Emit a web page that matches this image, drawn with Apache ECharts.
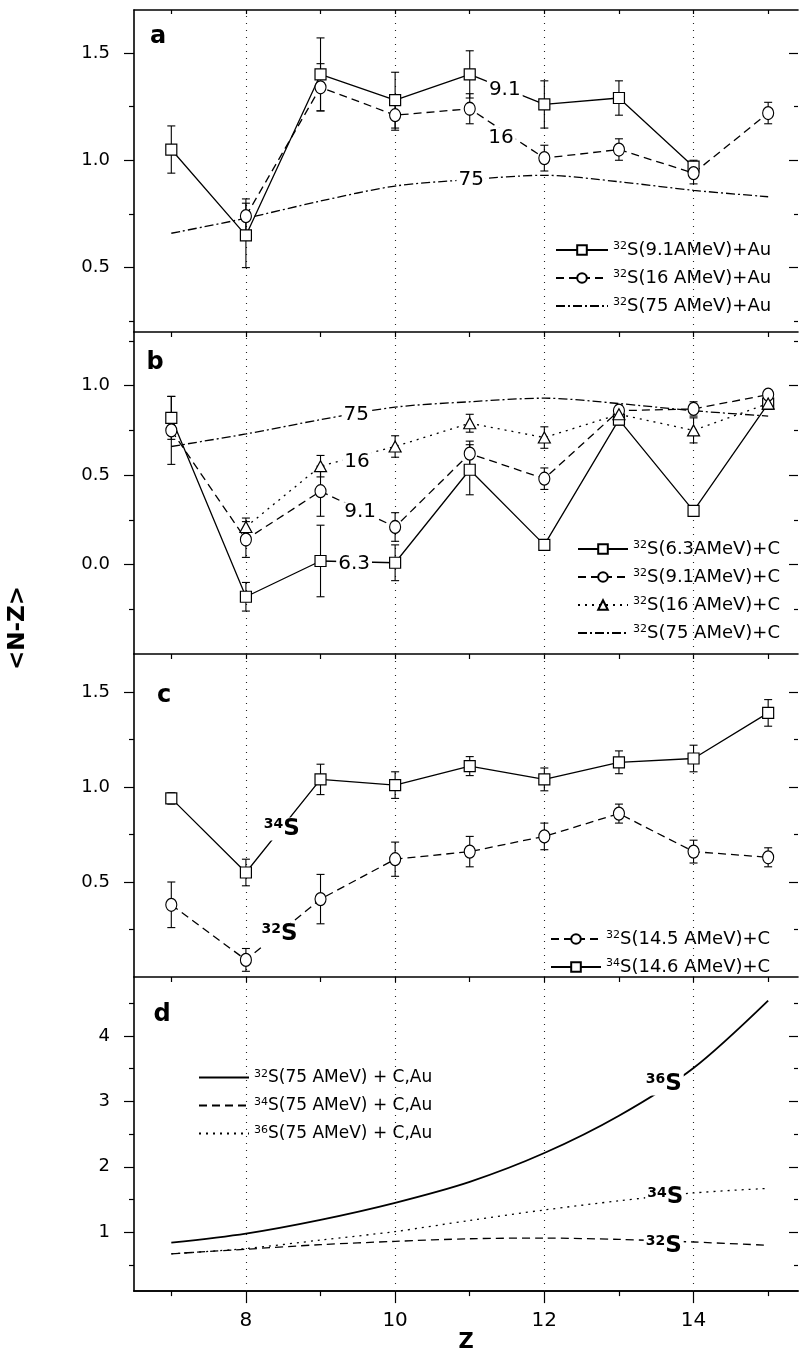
<!DOCTYPE html>
<html>
<head>
<meta charset="utf-8">
<script src="https://cdn.jsdelivr.net/npm/echarts@6/dist/echarts.min.js"></script>
<style>
  html, body { margin: 0; padding: 0; background: #fff; }
  #main { width: 799px; height: 1354px; }
</style>
</head>
<body>
<div id="main"></div>
<script>
// abscissa (Z)
const zAll = [7, 8, 9, 10, 11, 12, 13, 14, 15];
const zFrom8 = [8, 9, 10, 11, 12, 13, 14, 15];
const zTo14 = [7, 8, 9, 10, 11, 12, 13, 14];
const xMajor = [8, 10, 12, 14];
const xMinor = [7, 9, 11, 13, 15];

// panel a : 32S + Au
const au91 = [1.05, 0.65, 1.40, 1.28, 1.40, 1.26, 1.29, 0.97];       // Z 7..14
const au91Err = [0.11, 0.15, 0.17, 0.13, 0.11, 0.11, 0.08, 0.03];
const au16 = [0.74, 1.34, 1.21, 1.24, 1.01, 1.05, 0.94, 1.22];       // Z 8..15
const au16Err = [0.08, 0.11, 0.07, 0.07, 0.06, 0.05, 0.05, 0.05];
const s32at75 = [0.66, 0.73, 0.81, 0.88, 0.91, 0.93, 0.90, 0.86, 0.83]; // Z 7..15

// panel b : 32S + C
const c63 = [0.82, -0.18, 0.02, 0.01, 0.53, 0.11, 0.81, 0.30, 0.90];  // Z 7..15
const c63Err = [0.12, 0.08, 0.20, 0.10, 0.14, 0.03, 0.03, 0.03, 0.03];
const c91 = [0.75, 0.14, 0.41, 0.21, 0.62, 0.48, 0.86, 0.87, 0.95];
const c91Err = [0.19, 0.10, 0.14, 0.08, 0.07, 0.06, 0.03, 0.04, 0.02];
const c16 = [0.21, 0.55, 0.66, 0.79, 0.71, 0.84, 0.75, 0.90];        // Z 8..15
const c16Err = [0.05, 0.06, 0.06, 0.05, 0.06, 0.03, 0.07, 0.03];

// panel c : 32S / 34S + C
const s32c145 = [0.38, 0.09, 0.41, 0.62, 0.66, 0.74, 0.86, 0.66, 0.63];
const s32c145Err = [0.12, 0.06, 0.13, 0.09, 0.08, 0.07, 0.05, 0.06, 0.05];
const s34c146 = [0.94, 0.55, 1.04, 1.01, 1.11, 1.04, 1.13, 1.15, 1.39];
const s34c146Err = [0.03, 0.07, 0.08, 0.07, 0.05, 0.06, 0.06, 0.07, 0.07];

// panel d : 75 AMeV + C,Au
const d32 = [0.84, 0.98, 1.19, 1.45, 1.77, 2.21, 2.78, 3.51, 4.54];
const d34 = [0.67, 0.74, 0.81, 0.86, 0.90, 0.91, 0.89, 0.85, 0.80];
const d36 = [0.67, 0.75, 0.88, 1.01, 1.18, 1.34, 1.48, 1.60, 1.67];

// y tick values
const yTicksA = [0.5, 1.0, 1.5], yMinorA = [0.25, 0.75, 1.25];
const yTicksB = [0.0, 0.5, 1.0], yMinorB = [-0.25, 0.25, 0.75, 1.25];
const yTicksC = [0.5, 1.0, 1.5], yMinorC = [0.25, 0.75, 1.25];
const yTicksD = [1, 2, 3, 4], yMinorD = [0.5, 1.5, 2.5, 3.5, 4.5];

// in-plot labels [text, Z, value]
const notesA = [['9.1', 11.47, 1.33], ['16', 11.42, 1.107], ['75', 11.02, 0.908]];
const notesB = [['75', 9.48, 0.836], ['16', 9.49, 0.574], ['9.1', 9.53, 0.293], ['6.3', 9.45, 0.007]];
const notesC = [['34', 8.48, 0.779], ['32', 8.45, 0.225]];
const notesD = [['36', 13.6, 3.263], ['34', 13.62, 1.532], ['32', 13.6, 0.788]];

const FONT = 'DejaVu Sans';
const xMin = 6.5, xMax = 15.4;

const panels = [
  {top: 10, height: 322, min: 0.2, max: 1.7, ticks: yTicksA, minor: yMinorA, dec: 1},
  {top: 332, height: 322, min: -0.5, max: 1.3, ticks: yTicksB, minor: yMinorB, dec: 1},
  {top: 654, height: 323, min: 0.0, max: 1.7, ticks: yTicksC, minor: yMinorC, dec: 1},
  {top: 977, height: 322, min: 0.1, max: 4.9, ticks: yTicksD, minor: yMinorD, dec: 0}
];

const grids = panels.map(p => ({left: 134, right: 1, top: p.top, height: p.height}));

function xAx(gi, pos, ticks, len, inside, labels) {
  return {
    type: 'value', gridIndex: gi, position: pos, min: xMin, max: xMax,
    axisLine: {show: true, onZero: false, lineStyle: {color: '#000', width: 1.6}},
    axisTick: {show: true, customValues: ticks, length: len, inside: inside, lineStyle: {color: '#000', width: 1.2}},
    axisLabel: labels ? {show: true, customValues: labels, margin: 20, fontSize: 20, color: '#000', fontFamily: FONT} : {show: false},
    splitLine: {show: false}
  };
}

function yAx(gi, p, pos, ticks, len, inside, labels, line) {
  return {
    type: 'value', gridIndex: gi, position: pos, min: p.min, max: p.max,
    axisLine: {show: line, onZero: false, lineStyle: {color: '#000', width: 1.6}},
    axisTick: {show: true, customValues: ticks, length: len, inside: inside, lineStyle: {color: '#000', width: 1.2}},
    axisLabel: labels ? {show: true, customValues: labels, margin: 24, fontSize: 18, color: '#000', fontFamily: FONT,
      formatter: v => Number(v).toFixed(p.dec)} : {show: false},
    splitLine: {show: false}
  };
}

const xAxes = [
  xAx(0, 'bottom', zAll, 5, false, null),
  xAx(1, 'bottom', zAll, 5, false, null),
  xAx(2, 'bottom', zAll, 5, false, null),
  Object.assign(xAx(3, 'bottom', xMajor, 12, false, xMajor), {
    name: 'Z', nameLocation: 'middle', nameGap: 33,
    nameTextStyle: {fontSize: 21, fontWeight: 'bold', color: '#000', fontFamily: FONT}
  }),
  xAx(3, 'bottom', xMinor, 5, false, null),
  xAx(0, 'top', zAll, 4, true, null)
];

const yAxes = [];
panels.forEach((p, i) => {
  yAxes.push(yAx(i, p, 'left', p.ticks, 10, false, p.ticks, true));
  yAxes.push(yAx(i, p, 'left', p.minor, 5, false, null, false));
  yAxes.push(yAx(i, p, 'right', p.ticks, 9, true, null, false));
  yAxes.push(yAx(i, p, 'right', p.minor, 4, true, null, false));
});

const dottedGrid = {
  silent: true, symbol: 'none', animation: false, z: 1,
  label: {show: false}, emphasis: {disabled: true},
  lineStyle: {color: '#222', type: [1, 6], width: 1.1},
  data: xMajor.map(v => ({xAxis: v}))
};

function pts(zs, vs) { return zs.map((z, i) => [z, vs[i]]); }

function lineSeries(gi, name, zs, vs, dash, symbol, size, extra) {
  return Object.assign({
    type: 'line', name: name, xAxisIndex: gi, yAxisIndex: 4 * gi, z: 3,
    data: pts(zs, vs), symbol: symbol || 'none', symbolSize: size || 0,
    showSymbol: !!symbol,
    lineStyle: {color: '#000', width: 1.3, type: dash},
    itemStyle: {color: '#fff', borderColor: '#000', borderWidth: 1.2},
    emphasis: {disabled: true}, silent: true
  }, extra || {});
}

function errSeries(gi, zs, vs, es) {
  return {
    type: 'custom', xAxisIndex: gi, yAxisIndex: 4 * gi, z: 2, silent: true,
    data: zs.map((z, i) => [z, vs[i], es[i]]),
    renderItem: (params, api) => {
      const z = api.value(0), v = api.value(1), e = api.value(2);
      if (!e) return null;
      const hi = api.coord([z, v + e]), lo = api.coord([z, v - e]);
      const w = 4, st = {stroke: '#000', lineWidth: 1.1};
      return {type: 'group', children: [
        {type: 'line', shape: {x1: hi[0], y1: hi[1], x2: lo[0], y2: lo[1]}, style: st},
        {type: 'line', shape: {x1: hi[0] - w, y1: hi[1], x2: hi[0] + w, y2: hi[1]}, style: st},
        {type: 'line', shape: {x1: lo[0] - w, y1: lo[1], x2: lo[0] + w, y2: lo[1]}, style: st}
      ]};
    }
  };
}

function noteSeries(gi, notes, iso) {
  return {
    type: 'scatter', xAxisIndex: gi, yAxisIndex: 4 * gi, z: 6, silent: true,
    symbolSize: 1, itemStyle: {color: 'rgba(0,0,0,0)', opacity: 1},
    emphasis: {disabled: true},
    data: notes.map(n => ({value: [n[1], n[2]], txt: n[0]})),
    label: {
      show: true, position: 'inside', color: '#000', fontFamily: FONT,
      textBorderWidth: 0, textBorderColor: 'transparent',
      fontSize: 20, backgroundColor: '#fff', padding: [0, 2],
      formatter: p => iso ? '{sup|' + p.data.txt + '}{big|S}' : p.data.txt,
      rich: {
        sup: {fontSize: 14, fontWeight: 'bold', verticalAlign: 'top', fontFamily: FONT, color: '#000', textBorderWidth: 0},
        big: {fontSize: 23, fontWeight: 'bold', fontFamily: FONT, color: '#000', textBorderWidth: 0}
      }
    }
  };
}

const DASH = [8, 5], DOT = [2, 5], DASHDOT = [9, 3, 2, 3];

const series = [
  // panel a
  lineSeries(0, '32S(9.1AMeV)+Au', zTo14, au91, 'solid', 'rect', 11, {markLine: dottedGrid}),
  lineSeries(0, '32S(16 AMeV)+Au', zFrom8, au16, DASH, 'circle', [11, 13]),
  lineSeries(0, '32S(75 AMeV)+Au', zAll, s32at75, DASHDOT, null, 0, {smooth: 0.3}),
  errSeries(0, zTo14, au91, au91Err),
  errSeries(0, zFrom8, au16, au16Err),
  noteSeries(0, notesA, false),
  // panel b
  lineSeries(1, '32S(6.3AMeV)+C', zAll, c63, 'solid', 'rect', 11, {markLine: dottedGrid}),
  lineSeries(1, '32S(9.1AMeV)+C', zAll, c91, DASH, 'circle', [11, 13]),
  lineSeries(1, '32S(16 AMeV)+C', zFrom8, c16, DOT, 'triangle', [12, 11]),
  lineSeries(1, '32S(75 AMeV)+C', zAll, s32at75, DASHDOT, null, 0, {smooth: 0.3}),
  errSeries(1, zAll, c63, c63Err),
  errSeries(1, zAll, c91, c91Err),
  errSeries(1, zFrom8, c16, c16Err),
  noteSeries(1, notesB, false),
  // panel c
  lineSeries(2, '32S(14.5 AMeV)+C', zAll, s32c145, DASH, 'circle', [11, 13], {markLine: dottedGrid}),
  lineSeries(2, '34S(14.6 AMeV)+C', zAll, s34c146, 'solid', 'rect', 11),
  errSeries(2, zAll, s32c145, s32c145Err),
  errSeries(2, zAll, s34c146, s34c146Err),
  noteSeries(2, notesC, true),
  // panel d
  lineSeries(3, '32S(75 AMeV) + C,Au', zAll, d32, 'solid', null, 0, {smooth: 0.3, markLine: dottedGrid, lineStyle: {color: '#000', width: 1.8, type: 'solid'}}),
  lineSeries(3, '34S(75 AMeV) + C,Au', zAll, d34, DASH, null, 0, {smooth: 0.3}),
  lineSeries(3, '36S(75 AMeV) + C,Au', zAll, d36, DOT, null, 0, {smooth: 0.3}),
  noteSeries(3, notesD, true)
];

function legendFmt(name) {
  const m = name.match(/^(\d+)(.*)$/);
  return '{sup|' + m[1] + '}{t|' + m[2] + '}';
}

// names of series drawn without markers: their legend icon is the line only
const lineOnly = ['32S(75 AMeV)+Au', '32S(75 AMeV)+C', '32S(75 AMeV) + C,Au', '34S(75 AMeV) + C,Au', '36S(75 AMeV) + C,Au'];

function legend(names, left, top, w, gap, fs) {
  return {
    data: names.map(n => lineOnly.indexOf(n) >= 0 ? {name: n, itemStyle: {opacity: 0}} : n),
    left: left, top: top, orient: 'vertical',
    itemWidth: w, itemHeight: 12, itemGap: gap, selectedMode: false,
    formatter: legendFmt,
    textStyle: {
      color: '#000', fontFamily: FONT, fontSize: fs,
      rich: {
        sup: {fontSize: 11, verticalAlign: 'top', fontFamily: FONT, color: '#000'},
        t: {fontSize: fs, fontFamily: FONT, color: '#000'}
      }
    }
  };
}

const legends = [
  legend(['32S(9.1AMeV)+Au', '32S(16 AMeV)+Au', '32S(75 AMeV)+Au'], 550, 236, 52, 10, 18),
  legend(['32S(6.3AMeV)+C', '32S(9.1AMeV)+C', '32S(16 AMeV)+C', '32S(75 AMeV)+C'], 572, 535, 50, 10, 18),
  legend(['32S(14.5 AMeV)+C', '34S(14.6 AMeV)+C'], 545, 925, 50, 10, 18),
  legend(['32S(75 AMeV) + C,Au', '34S(75 AMeV) + C,Au', '36S(75 AMeV) + C,Au'], 193, 1064, 50, 11, 17)
];

const letterFont = 'bold 24px "DejaVu Sans"';
const graphics = [
  {type: 'text', x: 18, y: 628, rotation: Math.PI / 2,
   style: {text: '<N-Z>', font: 'bold 23px "DejaVu Sans"', fill: '#000', align: 'center', verticalAlign: 'middle'}},
  {type: 'text', x: 158, y: 37, style: {text: 'a', font: letterFont, fill: '#000', align: 'center', verticalAlign: 'middle'}},
  {type: 'text', x: 155, y: 363, style: {text: 'b', font: letterFont, fill: '#000', align: 'center', verticalAlign: 'middle'}},
  {type: 'text', x: 164, y: 696, style: {text: 'c', font: letterFont, fill: '#000', align: 'center', verticalAlign: 'middle'}},
  {type: 'text', x: 162, y: 1015, style: {text: 'd', font: letterFont, fill: '#000', align: 'center', verticalAlign: 'middle'}}
];

const chart = echarts.init(document.getElementById('main'), null, {renderer: 'canvas'});
chart.setOption({
  animation: false,
  backgroundColor: '#fff',
  textStyle: {fontFamily: FONT},
  grid: grids,
  xAxis: xAxes,
  yAxis: yAxes,
  legend: legends,
  graphic: graphics,
  series: series
});
</script>
</body>
</html>
